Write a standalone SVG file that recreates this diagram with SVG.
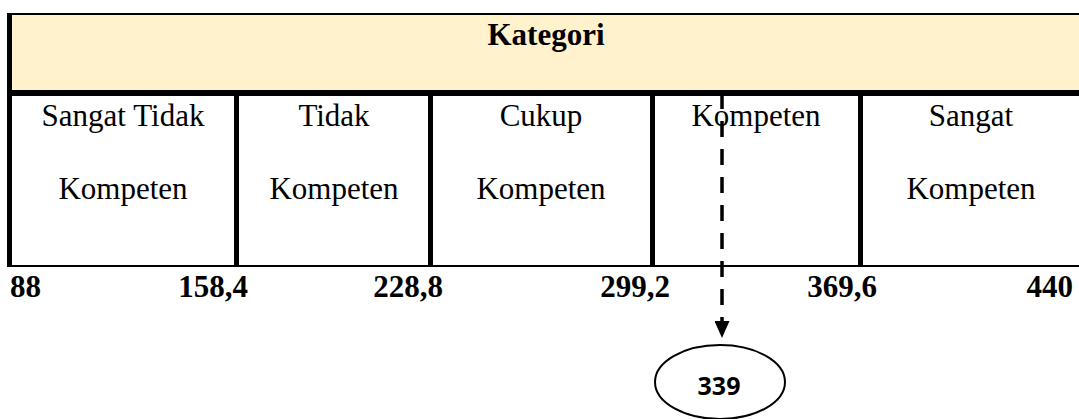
<svg xmlns="http://www.w3.org/2000/svg" width="1079" height="419" viewBox="0 0 1079 419">
<style>
.cell{font-family:"Liberation Serif","Times New Roman",serif;font-size:31px;fill:#000;text-anchor:middle}
.num{font-family:"Liberation Serif","Times New Roman",serif;font-size:31px;font-weight:bold;fill:#000;text-anchor:end}
.div{fill:#000}
</style>
<defs>
<marker id="arrow" markerUnits="userSpaceOnUse" markerWidth="17" markerHeight="15" viewBox="0 0 17 15" refX="0" refY="7.5" orient="auto">
<path d="M0,0 L17,7.5 L0,15 z" fill="#000" stroke="none"/>
</marker>
</defs>
<rect width="1079" height="419" fill="#fff"/>
<g id="header">
<rect x="7" y="14" width="1072" height="77" fill="#FFF2CC"/>
<rect x="7" y="13" width="1072" height="2" fill="#000"/>
<rect x="7" y="90" width="1072" height="6" fill="#000"/>
<text x="546" y="45" class="cell" font-weight="bold">Kategori</text>
</g>
<g id="table-frame">
<rect x="7" y="13" width="5" height="254" class="div"/>
<rect x="234" y="94" width="5" height="173" class="div"/>
<rect x="428" y="94" width="5" height="173" class="div"/>
<rect x="650" y="94" width="5" height="173" class="div"/>
<rect x="858" y="94" width="5" height="173" class="div"/>
<rect x="7" y="265" width="1072" height="2" fill="#000"/>
</g>
<g id="cat1">
<text x="123" y="126" class="cell">Sangat Tidak</text>
<text x="123" y="199" class="cell">Kompeten</text>
</g>
<g id="cat2">
<text x="334" y="126" class="cell">Tidak</text>
<text x="334" y="199" class="cell">Kompeten</text>
</g>
<g id="cat3">
<text x="541" y="126" class="cell">Cukup</text>
<text x="541" y="199" class="cell">Kompeten</text>
</g>
<g id="cat4">
<text x="756" y="126" class="cell">Kompeten</text>
</g>
<g id="cat5">
<text x="971" y="126" class="cell">Sangat</text>
<text x="971" y="199" class="cell">Kompeten</text>
</g>
<g id="scale">
<text x="10" y="297" class="num" text-anchor="start" style="text-anchor:start">88</text>
<text x="248" y="297" class="num">158,4</text>
<text x="443" y="297" class="num">228,8</text>
<text x="670" y="297" class="num">299,2</text>
<text x="877" y="297" class="num">369,6</text>
<text x="1073" y="297" class="num">440</text>
</g>
<g id="connectors">
<line x1="722" y1="93" x2="722" y2="321" stroke="#000" stroke-width="3.5" stroke-dasharray="16 12" marker-end="url(#arrow)"/>
</g>
<g id="result">
<ellipse cx="720" cy="382" rx="65" ry="37" fill="#fff" stroke="#000" stroke-width="2"/>
<text x="719" y="395" font-family="'Open Sans','Liberation Sans',sans-serif" font-size="25" font-weight="bold" text-anchor="middle" fill="#000">339</text>
</g>
</svg>
